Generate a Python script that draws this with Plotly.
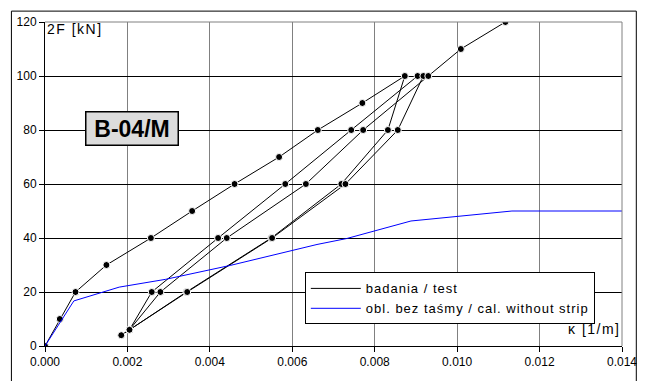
import plotly.graph_objects as go

# Measured curvature kappa [1/m] and load 2F [kN] for beam B-04/M (cyclic loading)
test_kappa = [0.0, 0.00036, 0.00074, 0.00149, 0.00257, 0.00357, 0.00460, 0.00568,
              0.00662, 0.00770, 0.00873,
              0.00832, 0.00719, 0.00549, 0.00343, 0.00205,
              0.00259, 0.00420, 0.00583, 0.00743, 0.00904, 0.00918,
              0.00856, 0.00729, 0.00551, 0.00345, 0.00185,
              0.00205, 0.00280, 0.00441, 0.00633, 0.00772, 0.00930,
              0.01009, 0.01117]
test_force = [0, 10, 20, 30, 40, 50, 60, 70,
              80, 90, 100,
              80, 60, 40, 20, 6,
              20, 40, 60, 80, 100, 100,
              80, 60, 40, 20, 4,
              6, 20, 40, 60, 80, 100,
              110, 120]

# Calculated response without strengthening strip
calc_kappa = [0.0, 0.00070, 0.00180, 0.00293, 0.00451, 0.00660, 0.00732, 0.00888, 0.01133, 0.01400]
calc_force = [0.0, 16.7, 21.8, 24.7, 29.9, 37.6, 39.8, 46.3, 50.0, 50.0]

x_ticks = [0.000, 0.002, 0.004, 0.006, 0.008, 0.010, 0.012, 0.014]
y_ticks = [0, 20, 40, 60, 80, 100, 120]

series_names = ["badania / test", "obl. bez taśmy / cal. without strip"]
series_colors = ["black", "#0000ff"]

FONT = "Liberation Sans, Arial, sans-serif"


def spaced(text, px):
    return f'<span style="letter-spacing:{px}px">{text}</span>'


fig = go.Figure()
fig.add_trace(go.Scatter(
    x=test_kappa, y=test_force, mode="lines+markers", showlegend=False,
    line=dict(color=series_colors[0], width=1),
    marker=dict(color="black", size=7, line=dict(color="white", width=1)),
))
fig.add_trace(go.Scatter(
    x=calc_kappa, y=calc_force, mode="lines", showlegend=False,
    line=dict(color=series_colors[1], width=1),
))
# legend entries shown as plain line samples
for name, color in zip(series_names, series_colors):
    fig.add_trace(go.Scatter(
        x=[None], y=[None], mode="lines", name=spaced(name, 1),
        line=dict(color=color, width=1),
    ))

fig.update_layout(
    width=649, height=381,
    margin=dict(l=45, r=20, t=22, b=32),
    paper_bgcolor="white", plot_bgcolor="white",
    font=dict(family=FONT, size=12, color="black"),
    showlegend=True,
    legend=dict(
        x=0.4503, y=0.227, xanchor="left", yanchor="top",
        bgcolor="white", bordercolor="black", borderwidth=1,
        font=dict(family=FONT, size=13, color="black"),
        itemwidth=50, tracegroupgap=0,
    ),
    xaxis=dict(
        range=[0, 0.014], tickvals=x_ticks, tickformat=".3f",
        showgrid=True, gridcolor="#808080", gridwidth=1,
        showline=True, linecolor="black", linewidth=1,
        ticks="outside", ticklen=5, tickcolor="black",
        zeroline=False, fixedrange=True,
    ),
    yaxis=dict(
        range=[0, 120], tickvals=y_ticks,
        showgrid=True, gridcolor="black", gridwidth=1,
        showline=True, linecolor="black", linewidth=1,
        ticks="outside", ticklen=5, tickcolor="black",
        zeroline=False, fixedrange=True,
    ),
    shapes=[
        # gray top and right edges of the plotting area
        dict(type="line", xref="paper", yref="paper", x0=0, x1=1, y0=1, y1=1,
             line=dict(color="#808080", width=1), layer="above"),
        dict(type="line", xref="paper", yref="paper", x0=1, x1=1, y0=0, y1=1,
             line=dict(color="#808080", width=1), layer="above"),
        # outer chart border
        dict(type="rect", xref="paper", yref="paper",
             x0=-0.0582, x1=1.0248, y0=-0.13, y1=1.0336,
             line=dict(color="black", width=1), layer="below"),
    ],
    annotations=[
        dict(text=spaced("2F [kN]", 1.5),
             xref="paper", yref="paper", x=0.0, y=0.979,
             xanchor="left", yanchor="middle", showarrow=False,
             font=dict(family=FONT, size=14, color="black")),
        dict(text=spaced("κ [1/m]", 1.5),
             xref="paper", yref="paper", x=1.002, y=0.052,
             xanchor="right", yanchor="middle", showarrow=False,
             font=dict(family=FONT, size=14, color="black")),
        dict(text="<b>B-04/M</b>",
             xref="paper", yref="paper", x=0.1515, y=0.6728,
             xanchor="center", yanchor="middle", showarrow=False,
             width=91, height=32, bgcolor="#dcdcdc",
             bordercolor="black", borderwidth=1.5, borderpad=0,
             font=dict(family=FONT, size=23, color="black")),
    ],
)

fig.write_html("out.html")
